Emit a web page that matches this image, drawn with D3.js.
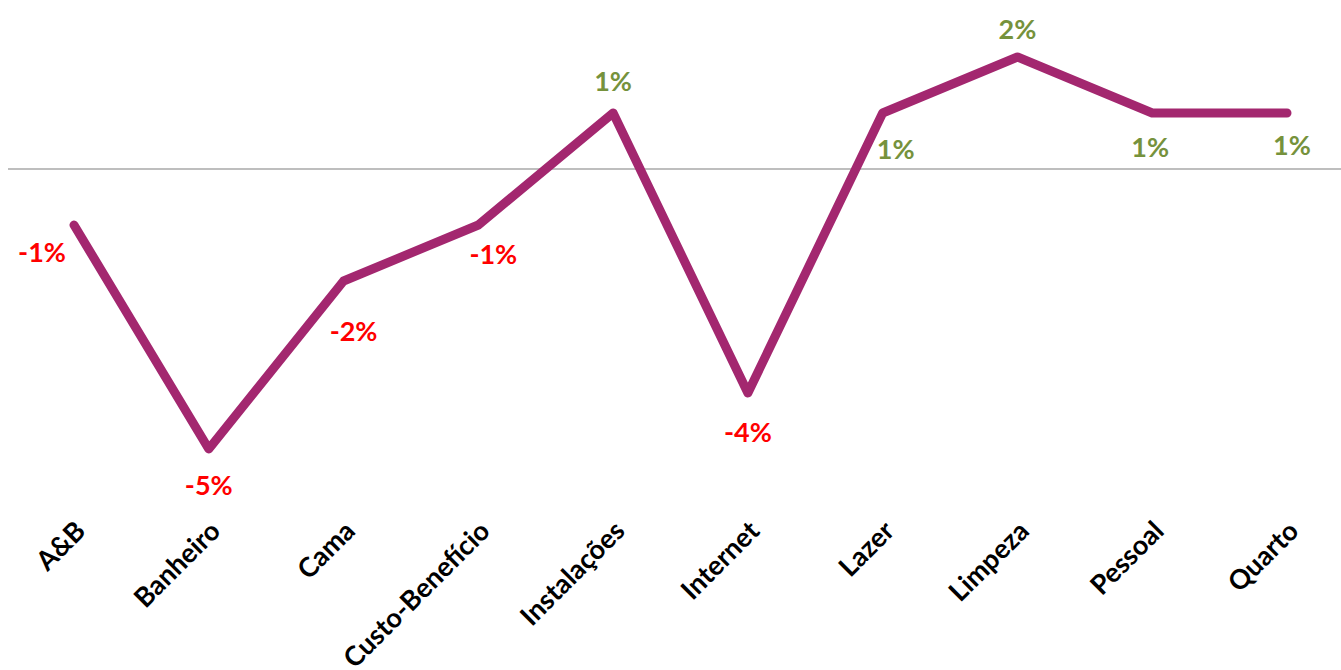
<!DOCTYPE html>
<html>
<head>
<meta charset="utf-8">
<script src="https://cdn.jsdelivr.net/npm/d3@7"></script>
<style>
  html, body { margin: 0; padding: 0; background: #fff; }
  svg { display: block; }
  text { font-family: Lato, "Open Sans", sans-serif; font-weight: bold; }
</style>
</head>
<body>
<svg id="chart" width="1341" height="670"></svg>
<script>
// Variação por categoria (em %)
const categories = ["A&B", "Banheiro", "Cama", "Custo-Benefício", "Instalações",
                    "Internet", "Lazer", "Limpeza", "Pessoal", "Quarto"];
const values = [-1, -5, -2, -1, 1, -4, 1, 2, 1, 1];

// Where each data label sits relative to its point, with a small nudge [dx, dy]
const labelPlacement = [
  [-32, 28], [0, 37], [10, 51], [15, 30], [0, -31],
  [0, 40], [13, 37], [0, -27], [-2, 35], [5, 33]
];

const svg = d3.select("#chart");

const x = d3.scalePoint().domain(categories).range([74, 1287]);
const y = d3.scaleLinear().domain([-5, 2]).range([449, 57]);

// zero baseline
svg.append("line")
  .attr("x1", 8).attr("x2", 1341)
  .attr("y1", y(0)).attr("y2", y(0))
  .attr("stroke", "#7f7f7f").attr("stroke-width", 1.2);

// category axis labels, rotated
const axis = d3.axisBottom(x).tickSize(0).tickPadding(0);
const gAxis = svg.append("g").attr("transform", "translate(0,526)").call(axis);
gAxis.select(".domain").remove();
gAxis.selectAll("text")
  .attr("font-size", 27)
  .attr("fill", "#000")
  .attr("text-anchor", "end")
  .attr("dy", "0.35em")
  .attr("transform", "translate(6,0) rotate(-45)");

// the series line
const line = d3.line()
  .x((d, i) => x(categories[i]))
  .y(d => y(d));

svg.append("path")
  .datum(values)
  .attr("d", line)
  .attr("fill", "none")
  .attr("stroke", "#a3276f")
  .attr("stroke-width", 9)
  .attr("stroke-linecap", "round")
  .attr("stroke-linejoin", "round");

// data labels
svg.append("g").selectAll("text")
  .data(values)
  .join("text")
  .attr("x", (d, i) => x(categories[i]) + labelPlacement[i][0])
  .attr("y", (d, i) => y(d) + labelPlacement[i][1])
  .attr("dy", "0.35em")
  .attr("text-anchor", "middle")
  .attr("font-size", 27)
  .attr("fill", d => d < 0 ? "#ff0000" : "#76923c")
  .text(d => d + "%");
</script>
</body>
</html>
